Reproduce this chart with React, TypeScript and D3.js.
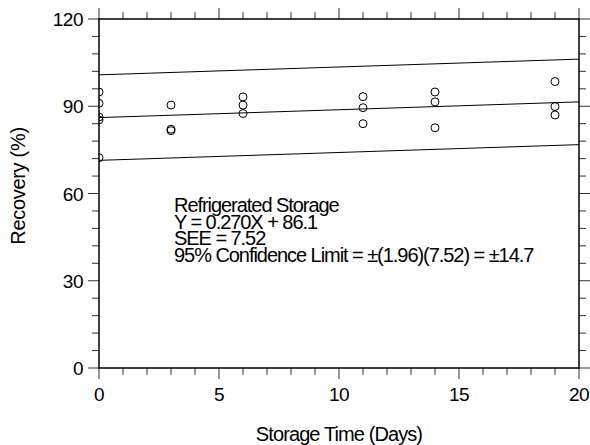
import React from "react";
import * as d3 from "d3";

const days = [0, 0, 0, 0, 0, 3, 3, 3, 6, 6, 6, 11, 11, 11, 14, 14, 14, 19, 19, 19];
const recovery = [94.9, 91.0, 86.3, 85.3, 72.3, 90.4, 82.1, 81.6, 93.2, 90.4, 87.5, 93.3, 89.5, 84.0, 94.9, 91.5, 82.6, 98.5, 89.9, 87.0];
const slope = 0.27;
const intercept = 86.1;
const confLimit = 14.7;
const xTicks = [0, 5, 10, 15, 20];
const yTicks = [0, 30, 60, 90, 120];
const annotation = [
  "Refrigerated Storage",
  "Y = 0.270X + 86.1",
  "SEE = 7.52",
  "95% Confidence Limit = \u00b1(1.96)(7.52) = \u00b114.7",
];

const W = 590, H = 445;
const L = 99, R = 579, T = 19, B = 368;
const font = "'Liberation Sans', Arial, sans-serif";

export default function App() {
  const x = d3.scaleLinear().domain([0, 20]).range([L, R]);
  const y = d3.scaleLinear().domain([0, 120]).range([B, T]);
  const xMinor = d3.range(0, 21, 1);
  const yMinor = d3.range(0, 121, 6);
  const lineGen = d3.line<[number, number]>().x(d => x(d[0])).y(d => y(d[1]));
  const fits = [-confLimit, 0, confLimit].map(off =>
    [0, 20].map(d => [d, slope * d + intercept + off] as [number, number])
  );
  return (
    <svg width={W} height={H} style={{ position: "absolute", left: 0, top: 0 }}>
      <defs>
        <clipPath id="plot"><rect x={L} y={T} width={R - L} height={B - T} /></clipPath>
      </defs>
      <rect width={W} height={H} fill="#fff" />
      {fits.map((f, i) => (
        <path key={i} d={lineGen(f) || ""} fill="none" stroke="#000" strokeWidth={1} />
      ))}
      <g clipPath="url(#plot)">
        {days.map((d, i) => (
          <circle key={i} cx={x(d)} cy={y(recovery[i])} r={4} fill="none" stroke="#000" strokeWidth={1} />
        ))}
      </g>
      {xMinor.map(t => {
        const major = t % 5 === 0;
        const len = major ? 11 : 7;
        return (
          <g key={"x" + t} stroke="#333" strokeWidth={1}>
            <line x1={x(t)} x2={x(t)} y1={B} y2={B + len} />
            <line x1={x(t)} x2={x(t)} y1={T} y2={T - len} />
          </g>
        );
      })}
      {yMinor.map(t => {
        const major = t % 30 === 0;
        const len = major ? 11 : 7;
        return (
          <g key={"y" + t} stroke="#333" strokeWidth={1}>
            <line x1={L} x2={L - len} y1={y(t)} y2={y(t)} />
            <line x1={R} x2={R + len} y1={y(t)} y2={y(t)} />
          </g>
        );
      })}
      <rect x={L} y={T} width={R - L} height={B - T} fill="none" stroke="#000" strokeWidth={1.5} />
      {xTicks.map(t => (
        <text key={"xl" + t} x={x(t)} y={401} textAnchor="middle" fontFamily={font} fontSize={19} letterSpacing={-0.5}>{t}</text>
      ))}
      {yTicks.map(t => (
        <text key={"yl" + t} x={83} y={y(t) + 7} textAnchor="end" fontFamily={font} fontSize={19} letterSpacing={-0.5}>{t}</text>
      ))}
      <text x={339} y={441} textAnchor="middle" fontFamily={font} fontSize={20} letterSpacing={-0.9}>Storage Time (Days)</text>
      <text transform={`translate(25,186) rotate(-90)`} textAnchor="middle" fontFamily={font} fontSize={20} letterSpacing={-0.3}>Recovery (%)</text>
      {annotation.map((s, i) => (
        <text key={"a" + i} x={174} y={212 + i * 16.7} fontFamily={font} fontSize={20} letterSpacing={-1.05}>{s}</text>
      ))}
    </svg>
  );
}
